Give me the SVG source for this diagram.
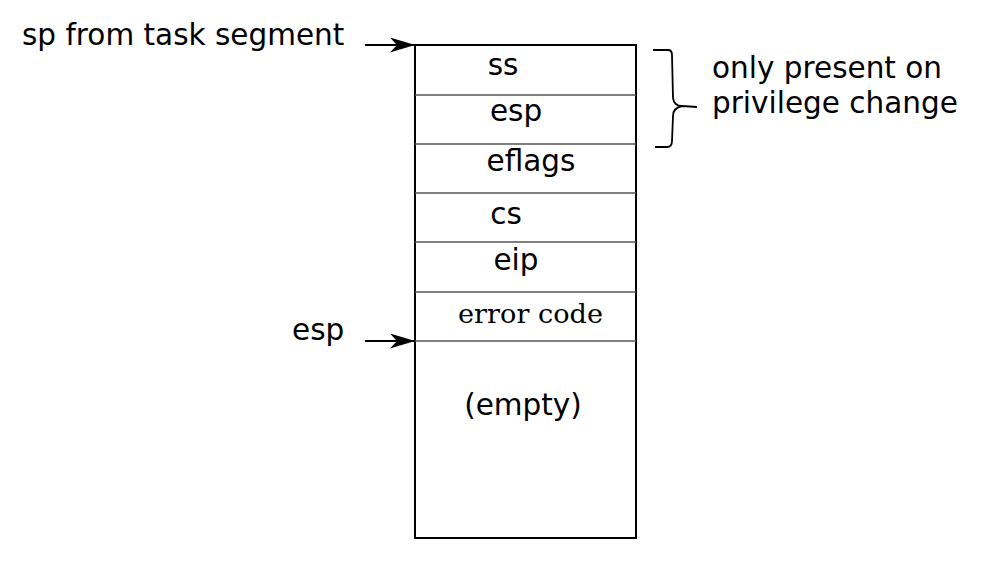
<svg xmlns="http://www.w3.org/2000/svg" width="996" height="570" viewBox="0 0 996 570">
<style>
.t{font-family:"DejaVu Sans",sans-serif;font-size:29.5px;fill:#000}
.s{font-family:"DejaVu Serif","Liberation Serif",serif;font-size:26px;fill:#000}
.row{stroke:#555;stroke-width:1.5}
.ar{stroke:#000;stroke-width:1.8;fill:none}
</style>
<defs>
<marker id="ah" viewBox="0 0 25 15" refX="25" refY="7.5" markerWidth="25" markerHeight="15" markerUnits="userSpaceOnUse" orient="auto">
<path d="M0,0 L25,7.5 L0,15 L7,7.5 Z" fill="#000"/>
</marker>
</defs>
<rect width="996" height="570" fill="#fff"/>
<g id="stack">
<rect x="415" y="45" width="221" height="493" fill="#fff" stroke="#000" stroke-width="2"/>
<line class="row" x1="415" y1="95" x2="636" y2="95"/>
<line class="row" x1="415" y1="144" x2="636" y2="144"/>
<line class="row" x1="415" y1="193" x2="636" y2="193"/>
<line class="row" x1="415" y1="242" x2="636" y2="242"/>
<line class="row" x1="415" y1="292" x2="636" y2="292"/>
<line class="row" x1="415" y1="341" x2="636" y2="341"/>
<text class="t" x="503" y="75" text-anchor="middle">ss</text>
<text class="t" x="516" y="121" text-anchor="middle">esp</text>
<text class="t" x="531" y="171" text-anchor="middle">eflags</text>
<text class="t" x="506" y="224" text-anchor="middle">cs</text>
<text class="t" x="516" y="270" text-anchor="middle">eip</text>
<text class="s" x="458" y="323" textLength="145" lengthAdjust="spacingAndGlyphs">error code</text>
<text class="t" x="523" y="415" text-anchor="middle">(empty)</text>
</g>
<g id="labels">
<text class="t" x="22" y="45">sp from task segment</text>
<text class="t" x="292" y="340">esp</text>
<text class="t" x="712" y="78">only present on</text>
<text class="t" x="712" y="113">privilege change</text>
</g>
<g id="connectors">
<line class="ar" x1="365" y1="45" x2="415" y2="45" marker-end="url(#ah)"/>
<line class="ar" x1="365" y1="341" x2="415" y2="341" marker-end="url(#ah)"/>
<path class="ar" d="M653,50 L668,50 Q672,50 672,55 L673,98 Q674,106 682,106 L697,107 M682,106 Q673,108 673,116 L672,141 Q672,147 667,147 L655,147"/>
</g>
</svg>
